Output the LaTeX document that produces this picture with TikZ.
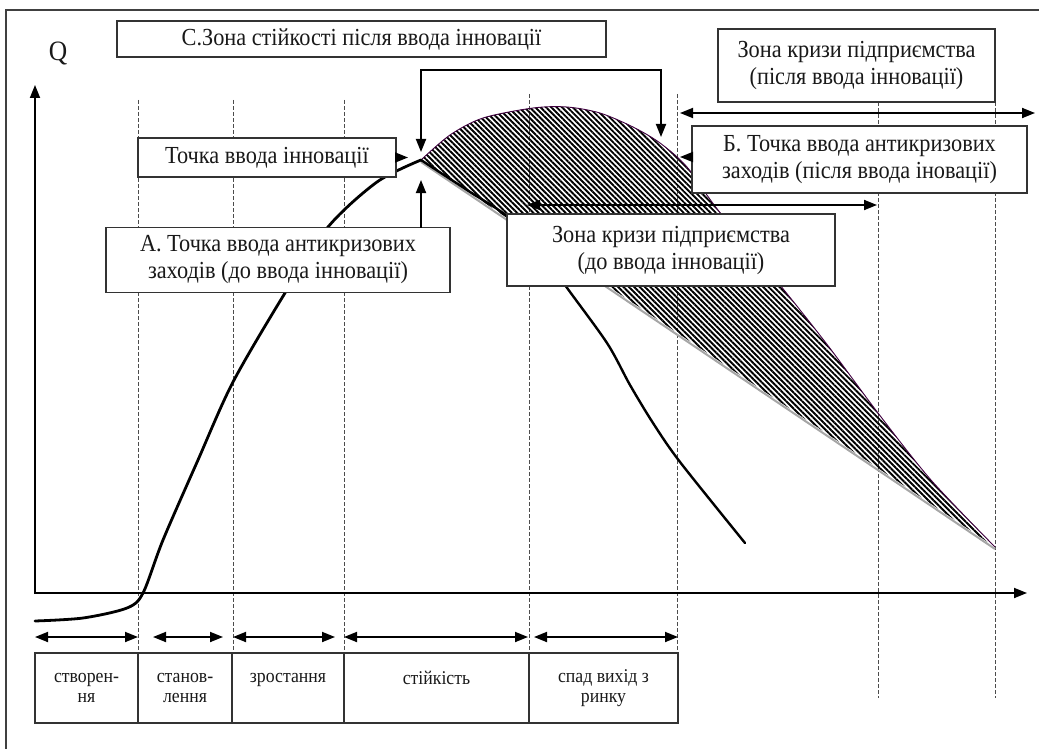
\documentclass[tikz,border=0pt]{standalone}
\usepackage{fontspec}
\setmainfont{Liberation Serif}[FakeStretch=0.91]
\usetikzlibrary{arrows.meta,positioning,patterns.meta}

\begin{document}
\begin{tikzpicture}[x=1pt, y=-1pt, >={Triangle[length=13pt,width=10pt]},
  label box/.style={draw=black!80, fill=white, line width=1.2pt, align=center, inner sep=0pt, outer sep=0pt},
  stage cell/.style={draw=black!80, line width=1.2pt, align=center, inner sep=0pt, outer sep=0pt, minimum height=70pt, font=\fontsize{19.5}{20}\selectfont},
  guide/.style={black!70, line width=0.8pt, dash pattern=on 4pt off 2pt},
  link/.style={black, line width=1.8pt}]
\tikzstyle{every node}=[font=\fontsize{24.5}{27}\selectfont, text=black!90]

  \useasboundingbox (0,0) rectangle (1039,749);
  \draw[black!75, line width=1.3pt] (6,749) -- (6,10) -- (1039,10);

  \foreach \x/\y in {138/100, 233/100, 344/100, 529/94, 677/94}
    \draw[guide] (\x,\y) -- (\x,653);
  \foreach \x in {878, 995}
    \draw[guide] (\x,102) -- (\x,698);

  \coordinate (O) at (35,593);
  \coordinate (yend) at (35,85);
  \coordinate (xend) at (1027,593);
  \coordinate (jn) at (421,160);
  \draw[link, <->] (yend) -- (O) -- (xend);
  \node (q) at (58,54) {\fontsize{28}{28}\selectfont Q};

  \fill[pattern={Lines[angle=-45,distance=3.8pt,line width=1.9pt]}]
    plot[smooth] coordinates {(421,160) (450,135) (483,118) (533,108) (567,107) (600,113) (633,127) (660,143) (687,167) (718,210) (784,290) (829,347) (878,413) (931,480) (995,547)} -- cycle;
  \draw[violet!50!black, line width=0.9pt]
    plot[smooth] coordinates {(421,160) (450,135) (483,118) (533,108) (567,107) (600,113) (633,127) (660,143) (687,167) (718,210) (784,290) (829,347) (878,413) (931,480) (995,547)};
  \draw[black!35, line width=2pt] (jn) ++(0,2) -- (995,549);

  \draw[line width=2.8pt, line cap=round] plot[smooth] coordinates {(35,621) (83,618) (127,608) (143,593) (163,540) (198,460) (233,382) (285,293) (328,227) (377,182) (421,160)};
  \draw[line width=2.4pt, line cap=round] plot[smooth] coordinates {(421,160) (467,190) (507,216) (540,248) (565,285) (607,343) (630,385) (653,423) (680,462) (745,543)};

  \node[label box, minimum width=489pt, minimum height=36pt] (1) at (361.5,39) {С.Зона стійкості після ввода інновації};
  \node[label box, minimum width=258pt, minimum height=39pt] (2) at (267,157.5) {Точка ввода інновації};
  \node[label box, minimum width=344pt, minimum height=65pt] (3) at (278,260) {А. Точка ввода антикризових\\заходів (до ввода інновації)};
  \node[label box, minimum width=277pt, minimum height=73pt] (4) at (856.5,65.5) {Зона кризи підприємства\\(після ввода інновації)};
  \node[label box, minimum width=335pt, minimum height=67pt] (5) at (859.5,159.5) {Б. Точка ввода антикризових\\заходів (після ввода іновації)};
  \node[label box, minimum width=328pt, minimum height=72pt] (6) at (671,250) {Зона кризи підприємства\\(до ввода інновації)};

  \node[stage cell, minimum width=103pt] (7) at (86.5,688) {створен-\\ня};
  \node[stage cell, minimum width=94pt, right=0pt of 7] (8) {станов-\\лення};
  \node[stage cell, minimum width=112pt, right=0pt of 8] (9) {зростання\\\mbox{}};
  \node[stage cell, minimum width=185pt, right=0pt of 9] (10) {стійкість\\\mbox{}};
  \node[stage cell, minimum width=149pt, right=0pt of 10] (11) {спад вихід з\\ринку};

  \coordinate (stab) at (661,137);
  \coordinate (bk) at (540,70);
  \coordinate (z1) at (680,113);
  \coordinate (z2) at (1035,113);
  \coordinate (bt) at (680,157);
  \coordinate (w1) at (527,205);
  \coordinate (w2) at (877,205);

  \draw[link, ->, shorten >=13pt] (2.east) -- (2.east -| jn);
  \draw[link, ->, shorten >=20pt] (3.north -| jn) -- (jn);
  \draw[link, <->, shorten <=8pt] (jn) |- (bk) -| (stab);
  \draw[link, <->] (z1) -- (z2);
  \draw[link, ->] (5.west |- bt) -- (bt);
  \draw[link, <->] (w1) -- (w2);
  \foreach \c/\l/\r in {7/0/0, 8/15/9, 9/1/9, 10/0/1, 11/5/0}
    \draw[link, <->, shorten <=\l pt, shorten >=\r pt] ([yshift=16pt]\c.north west) -- ([yshift=16pt]\c.north east);
\end{tikzpicture}
\end{document}
